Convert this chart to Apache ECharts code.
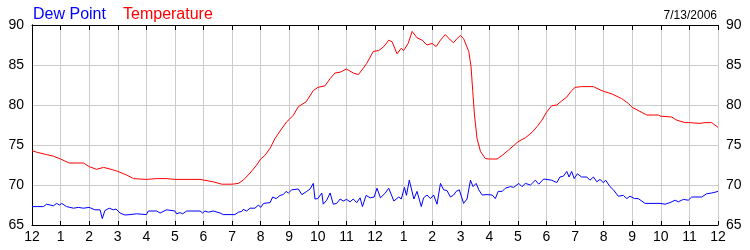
<!DOCTYPE html>
<html>
<head>
<meta charset="utf-8">
<script src="https://cdn.jsdelivr.net/npm/echarts@6/dist/echarts.min.js"></script>
<style>html,body{margin:0;padding:0;background:#fff}#c{width:750px;height:250px}</style>
</head>
<body>
<div id="c"></div>
<script>
// hours since midnight, 7/13/2006
var tempHours = [0,0.16,0.51,0.75,1.0,1.15,1.31,1.8,2.0,2.26,2.5,2.73,3.0,3.31,3.55,4.0,4.36,4.71,5.0,5.88,6.34,6.64,7.0,7.22,7.39,7.63,7.86,8.0,8.15,8.33,8.5,8.68,8.91,9.0,9.14,9.32,9.59,9.84,10.0,10.25,10.43,10.6,10.78,11.0,11.24,11.42,11.59,11.71,11.94,12.13,12.31,12.48,12.6,12.77,12.92,13.0,13.16,13.3,13.47,13.65,13.82,14.0,14.14,14.29,14.46,14.64,14.75,14.87,14.99,15.1,15.28,15.36,15.42,15.48,15.57,15.69,15.86,16.0,16.27,16.45,16.68,16.91,17.0,17.26,17.5,17.67,17.84,18.0,18.18,18.36,18.53,18.71,18.88,19.0,19.23,19.64,19.81,20.0,20.28,20.63,20.86,21.0,21.27,21.51,21.91,22.0,22.38,22.56,22.85,23.0,23.37,23.55,23.78,24.0];
var tempValues = [74.3,74.1,73.8,73.6,73.25,73.0,72.75,72.75,72.3,71.96,72.2,72.0,71.7,71.25,70.8,70.7,70.8,70.8,70.7,70.7,70.4,70.1,70.1,70.2,70.6,71.5,72.5,73.25,73.7,74.6,75.8,76.75,77.9,78.2,78.7,79.8,80.4,81.8,82.2,82.4,83.3,84.0,84.1,84.5,84.0,83.8,84.6,85.2,86.7,86.8,87.3,88.1,87.9,86.4,87.1,86.8,87.7,89.2,88.4,88.1,87.5,87.7,87.3,88.1,88.8,88.1,87.8,88.3,88.7,88.3,86.7,84.8,81.7,78.75,75.8,74.2,73.3,73.25,73.25,73.7,74.4,75.1,75.4,75.9,76.6,77.3,78.1,79.1,79.9,80.0,80.5,81.0,81.8,82.2,82.3,82.3,82.0,81.7,81.4,80.8,80.2,79.7,79.2,78.75,78.75,78.6,78.5,78.1,77.8,77.8,77.7,77.8,77.8,77.2];
var dewHours = [0,0.4,0.51,0.75,0.86,0.96,1.04,1.21,1.45,1.62,1.8,2.0,2.2,2.38,2.46,2.55,2.7,2.85,2.94,3.08,3.25,3.43,3.66,4.0,4.07,4.36,4.48,4.71,5.0,5.06,5.18,5.27,5.41,5.88,5.97,6.05,6.17,6.34,6.58,6.69,7.1,7.22,7.34,7.39,7.51,7.63,7.8,7.92,8.0,8.1,8.33,8.42,8.54,8.68,8.79,8.89,8.97,9.09,9.32,9.44,9.61,9.73,9.84,9.9,10.0,10.14,10.19,10.31,10.43,10.54,10.66,10.78,10.89,11.0,11.13,11.24,11.36,11.48,11.56,11.69,11.83,11.97,12.07,12.19,12.36,12.48,12.66,12.83,12.92,13.03,13.1,13.2,13.36,13.47,13.62,13.7,13.82,13.94,14.05,14.17,14.29,14.4,14.52,14.64,14.75,14.84,14.95,15.1,15.22,15.34,15.43,15.54,15.63,15.75,15.92,16.1,16.21,16.31,16.45,16.56,16.74,16.85,17.03,17.14,17.26,17.44,17.61,17.73,17.9,18.18,18.36,18.47,18.59,18.71,18.79,18.88,18.97,19.08,19.23,19.41,19.52,19.64,19.76,19.87,19.99,20.07,20.22,20.34,20.51,20.69,20.81,20.92,21.08,21.21,21.45,21.97,22.15,22.32,22.5,22.61,22.79,22.96,23.08,23.43,23.6,23.78,23.9,24.0];
var dewValues = [67.3,67.3,67.6,67.4,67.7,67.5,67.7,67.3,67.1,67.2,67.1,67.2,66.9,66.9,65.8,66.8,67.1,66.9,67.0,66.5,66.25,66.3,66.4,66.3,66.75,66.75,66.5,66.9,66.75,66.4,66.55,66.4,66.75,66.75,66.5,66.75,66.6,66.75,66.5,66.3,66.3,66.6,66.7,66.96,66.75,67.1,67.1,67.5,67.2,67.7,67.8,68.5,68.3,68.7,68.8,69.2,69.0,69.4,69.5,68.8,69.2,69.5,70.2,68.25,68.3,69.0,67.6,68.1,69.0,67.6,67.7,68.25,68.0,68.2,67.9,68.25,67.8,68.4,67.3,68.7,68.4,68.5,69.6,68.4,69.0,69.6,68.0,68.5,68.25,69.7,68.7,70.6,68.25,69.2,67.3,68.4,68.75,68.3,68.75,67.6,70.2,69.4,69.3,68.5,68.75,69.2,69.4,67.7,68.25,70.6,69.8,70.2,69.4,68.75,68.8,68.75,68.3,69.2,69.2,69.6,69.8,69.7,70.2,69.8,70.2,70.0,70.6,70.1,70.75,70.6,70.3,71.0,71.1,71.7,71.0,71.7,70.8,71.4,71.0,71.0,70.6,71.0,70.4,70.7,70.3,70.6,69.8,69.4,68.6,68.7,68.3,68.6,68.3,68.3,67.7,67.7,67.6,67.8,68.1,67.9,68.2,68.1,68.5,68.5,68.9,69.0,69.1,69.2];
var yTicks = [65, 70, 75, 80, 85, 90];
var dateLabel = '7/13/2006';

function pairs(h, v) { return h.map(function (x, i) { return [x, v[i]]; }); }
function hourLabel(h) { var m = h % 12; return String(m === 0 ? 12 : m); }

var font = 'Liberation Sans, Arial, sans-serif';
var chart = echarts.init(document.getElementById('c'), null, { renderer: 'canvas' });
chart.setOption({
  animation: false,
  backgroundColor: '#fff',
  title: [
    { text: 'Dew Point', left: 28, top: 2, textStyle: { color: '#0000ff', fontSize: 16, fontWeight: 'normal', fontFamily: font } },
    { text: 'Temperature', left: 118, top: 2, textStyle: { color: '#ff0000', fontSize: 16, fontWeight: 'normal', fontFamily: font } },
    { text: dateLabel, right: 28, top: 5, textStyle: { color: '#000', fontSize: 12, fontWeight: 'normal', fontFamily: font } }
  ],
  grid: { left: 32, right: 32, top: 25, bottom: 25, containLabel: false },
  xAxis: [
    {
      type: 'value', min: 0, max: 24, interval: 1, position: 'bottom',
      axisLine: { show: true, lineStyle: { color: '#000', width: 1 } },
      axisTick: { show: true, inside: true, length: 4, lineStyle: { color: '#000' } },
      axisLabel: { show: true, color: '#000', fontSize: 14, fontFamily: font, margin: 5, formatter: hourLabel },
      splitLine: { show: true, lineStyle: { color: '#cccccc', width: 1 } }
    },
    {
      type: 'value', min: 0, max: 24, interval: 1, position: 'top',
      axisLine: { show: true, lineStyle: { color: '#000', width: 1 } },
      axisTick: { show: true, inside: true, length: 5, lineStyle: { color: '#000' } },
      axisLabel: { show: false },
      splitLine: { show: false }
    }
  ],
  yAxis: [
    {
      type: 'value', min: yTicks[0], max: yTicks[yTicks.length - 1], interval: 5, position: 'left',
      axisLine: { show: true, lineStyle: { color: '#000', width: 1 } },
      axisTick: { show: false },
      axisLabel: { show: true, color: '#000', fontSize: 14, fontFamily: font, margin: 8 },
      splitLine: { show: true, lineStyle: { color: '#cccccc', width: 1 } }
    },
    {
      type: 'value', min: yTicks[0], max: yTicks[yTicks.length - 1], interval: 5, position: 'right',
      axisLine: { show: true, lineStyle: { color: '#000', width: 1 } },
      axisTick: { show: false },
      axisLabel: { show: true, color: '#000', fontSize: 14, fontFamily: font, margin: 8 },
      splitLine: { show: false }
    }
  ],
  series: [
    { name: 'Temperature', type: 'line', data: pairs(tempHours, tempValues), showSymbol: false, symbol: 'none',
      lineStyle: { color: '#ff0000', width: 1 }, itemStyle: { color: '#ff0000' }, z: 3 },
    { name: 'Dew Point', type: 'line', data: pairs(dewHours, dewValues), showSymbol: false, symbol: 'none',
      lineStyle: { color: '#0000ff', width: 1 }, itemStyle: { color: '#0000ff' }, z: 3 }
  ]
});
</script>
</body>
</html>
